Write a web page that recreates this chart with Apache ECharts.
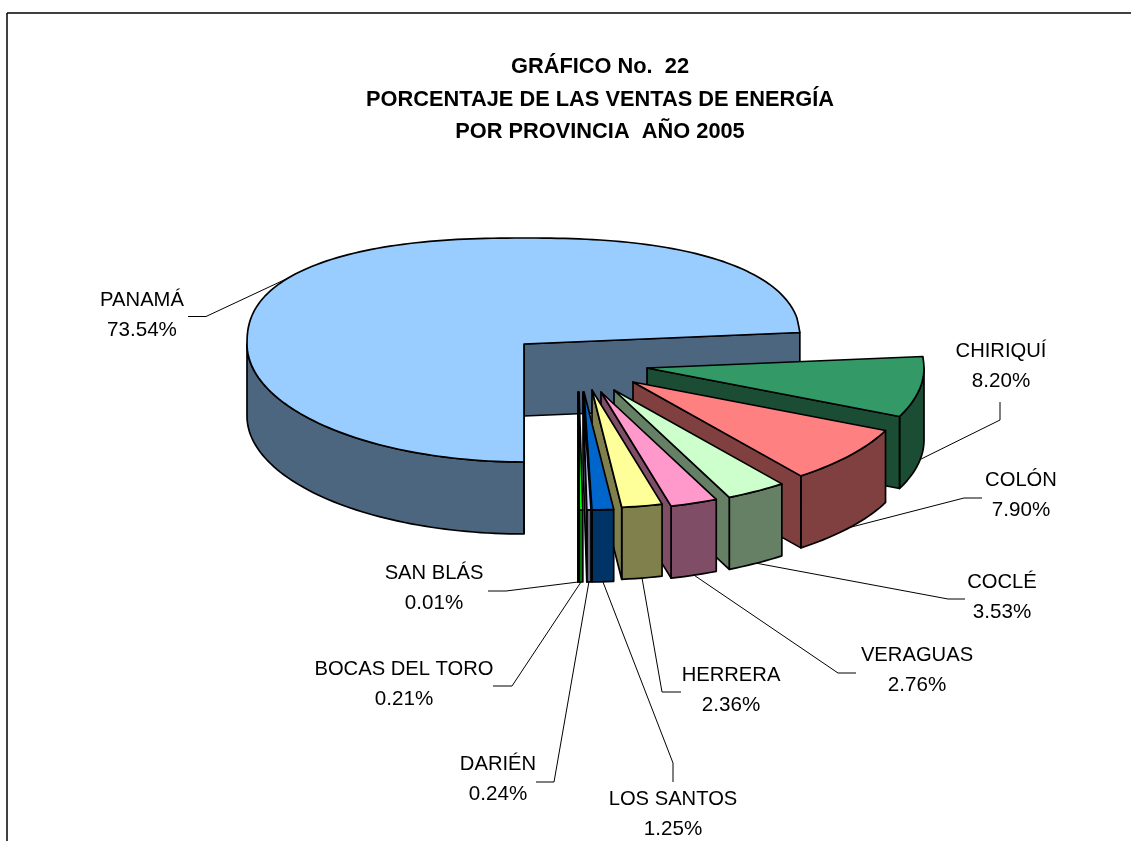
<!DOCTYPE html>
<html>
<head>
<meta charset="utf-8">
<style>html,body{margin:0;padding:0;background:#fff}#c{width:1131px;height:841px}</style>
<script src="https://cdn.jsdelivr.net/npm/echarts@6/dist/echarts.min.js"></script>
</head>
<body>
<div id="c"></div>
<script>
// --- data ---
const provinces = ['PANAMÁ','CHIRIQUÍ','COLÓN','COCLÉ','VERAGUAS','HERRERA','LOS SANTOS','DARIÉN','BOCAS DEL TORO','SAN BLÁS'];
const shares    = [73.54, 8.20, 7.90, 3.53, 2.76, 2.36, 1.25, 0.24, 0.21, 0.01];
const topColors = ['#99CCFF','#339966','#FF8080','#CCFFCC','#FF99CC','#FFFF99','#0066CC','#CCCCFF','#00FF00','#006600'];
const titleLines = ['GRÁFICO No.  22','PORCENTAJE DE LAS VENTAS DE ENERGÍA','POR PROVINCIA  AÑO 2005'];

// --- layout of the pseudo-3D pie (explosion apex of each slice, label and leader bend) ---
const apexX  = [524,647,633,614,601,592,584,583,579,578];
const apexY  = [344,368,382,390,392,390,392,392,392,392];
const labelX = [142,1001,1021,1002,917,731,673,498,404,434];
const labelY = [300,351,480,582,655,675,799,764,669,573];
const bendX  = [206,1000,964,948,838,662,673,554,512,506];
const bendY  = [316.5,420,498,599,673,692,763,782,686,591];
const stubX  = [188,1000,982,965,856,681,673,536,493,488];
const stubY  = [316.5,402,498,599,673,692,782,782,686,591];
const RX = 277, RY_FRONT = 118, RY_BACK = 106, DEPTH = 72, START = 180;

const FONT = '"Liberation Sans", Arial, sans-serif';
const NAME_SIZE = 20.2, VALUE_SIZE = 20.6, TITLE_SIZE = 21.8;

function rim(a, ax, ay) {
  const r = a * Math.PI / 180, s = Math.sin(r), c = Math.cos(r);
  let dy;
  if (c <= 0) dy = -c * RY_FRONT;
  else {
    const back = x => -RY_BACK * Math.pow(1 - Math.pow(x, 2.4), 1 / 2.4);
    const lim = Math.sin(80 * Math.PI / 180);
    const as = Math.abs(s);
    dy = (s < 0 || as < lim) ? back(as) : back(lim) * Math.pow((Math.acos(as) * 180 / Math.PI) / 10, 1.3);
  }
  return [ax + s * RX, ay + dy];
}
function arc(a0, a1, ax, ay) {
  const n = Math.max(2, Math.ceil(Math.abs(a1 - a0) / 1.5)), pts = [];
  for (let i = 0; i <= n; i++) pts.push(rim(a0 + (a1 - a0) * i / n, ax, ay));
  return pts;
}
const down = (pts) => pts.map(p => [p[0], p[1] + DEPTH]);
function shade(hex) {
  const v = parseInt(hex.slice(1), 16);
  const f = x => Math.round(x * 0.5);
  return 'rgb(' + f(v >> 16) + ',' + f((v >> 8) & 255) + ',' + f(v & 255) + ')';
}
const edge = {stroke: '#000', lineWidth: 1.7, lineJoin: 'round'};
function poly(points, fill) {
  return {type: 'polygon', shape: {points}, style: Object.assign({fill}, edge)};
}

const total = shares.reduce((a, b) => a + b, 0);
let cum = 0;
const slices = shares.map(v => {
  let s = START + cum / total * 360; cum += v; let e = START + cum / total * 360;
  if (s >= 360) { s -= 360; e -= 360; }
  return [v, s, e];
});

function renderSlice(params, api) {
  const i = params.dataIndex;
  const a0 = api.value(1), a1 = api.value(2);
  const ax = apexX[i], ay = apexY[i];
  const apex = [ax, ay];
  const children = [];
  const fill = topColors[i], side = shade(fill);
  const topArc = arc(a0, a1, ax, ay);
  // outer wall: front half of the rim only
  const w0 = Math.max(a0, 90);
  const w1 = Math.min(a1, 270);
  const end = rim(a1, ax, ay);
  if (w1 > w0) {
    const f = arc(w0, w1, ax, ay);
    children.push(poly(f.concat(down(f).reverse()), side));
  }
  // wall along the closing radius of the slice
  children.push(poly([apex, end, [end[0], end[1] + DEPTH], [ax, ay + DEPTH]], side));
  if (i === 0) {
    const s = rim(a0, ax, ay);
    children.push({type: 'line', shape: {x1: s[0], y1: ay, x2: s[0], y2: s[1] + DEPTH}, style: edge});
  }
  children.push(poly([apex].concat(topArc), fill));
  return {type: 'group', children};
}

function renderLeader(params, api) {
  const i = params.dataIndex;
  const mid = (api.value(1) + api.value(2)) / 2;
  const p = rim(mid, apexX[i], apexY[i]);
  const anchor = i === 0 ? p : [p[0], p[1] + DEPTH];
  return {type: 'polyline',
    shape: {points: [[stubX[i], stubY[i]], [bendX[i], bendY[i]], anchor]},
    style: {stroke: '#000', lineWidth: 1, fill: null}};
}

function renderLabel(params, api) {
  const i = params.dataIndex;
  const val = api.value(0);
  const mk = (t, y, size) => ({type: 'text', style: {
    text: t, x: labelX[i], y, align: 'center', verticalAlign: 'middle',
    fontFamily: FONT, fontSize: size, fill: '#000'}});
  return {type: 'group', children: [
    mk(provinces[i], labelY[i], NAME_SIZE),
    mk(val.toFixed(2) + '%', labelY[i] + 30, VALUE_SIZE)
  ]};
}

const chart = echarts.init(document.getElementById('c'), null, {renderer: 'canvas'});
chart.setOption({
  animation: false,
  backgroundColor: '#fff',
  graphic: [
    {type: 'line', shape: {x1: 7, y1: 13, x2: 1131, y2: 13}, style: {stroke: '#000', lineWidth: 1.5}},
    {type: 'line', shape: {x1: 7, y1: 13, x2: 7, y2: 841}, style: {stroke: '#000', lineWidth: 1.5}}
  ],
  title: titleLines.map((t, k) => ({
    text: t, left: 595, top: 62 + k * 32.5, textAlign: 'center', textVerticalAlign: 'middle',
    textStyle: {fontFamily: FONT, fontSize: TITLE_SIZE, fontWeight: 'bold', color: '#000'}
  })),
  series: [
    {type: 'custom', coordinateSystem: 'none', data: slices, renderItem: renderLeader, z: 1, silent: true},
    {type: 'custom', coordinateSystem: 'none', data: slices, renderItem: renderSlice, z: 2, silent: true},
    {type: 'custom', coordinateSystem: 'none', data: slices, renderItem: renderLabel, z: 3, silent: true}
  ]
});
</script>
</body>
</html>
